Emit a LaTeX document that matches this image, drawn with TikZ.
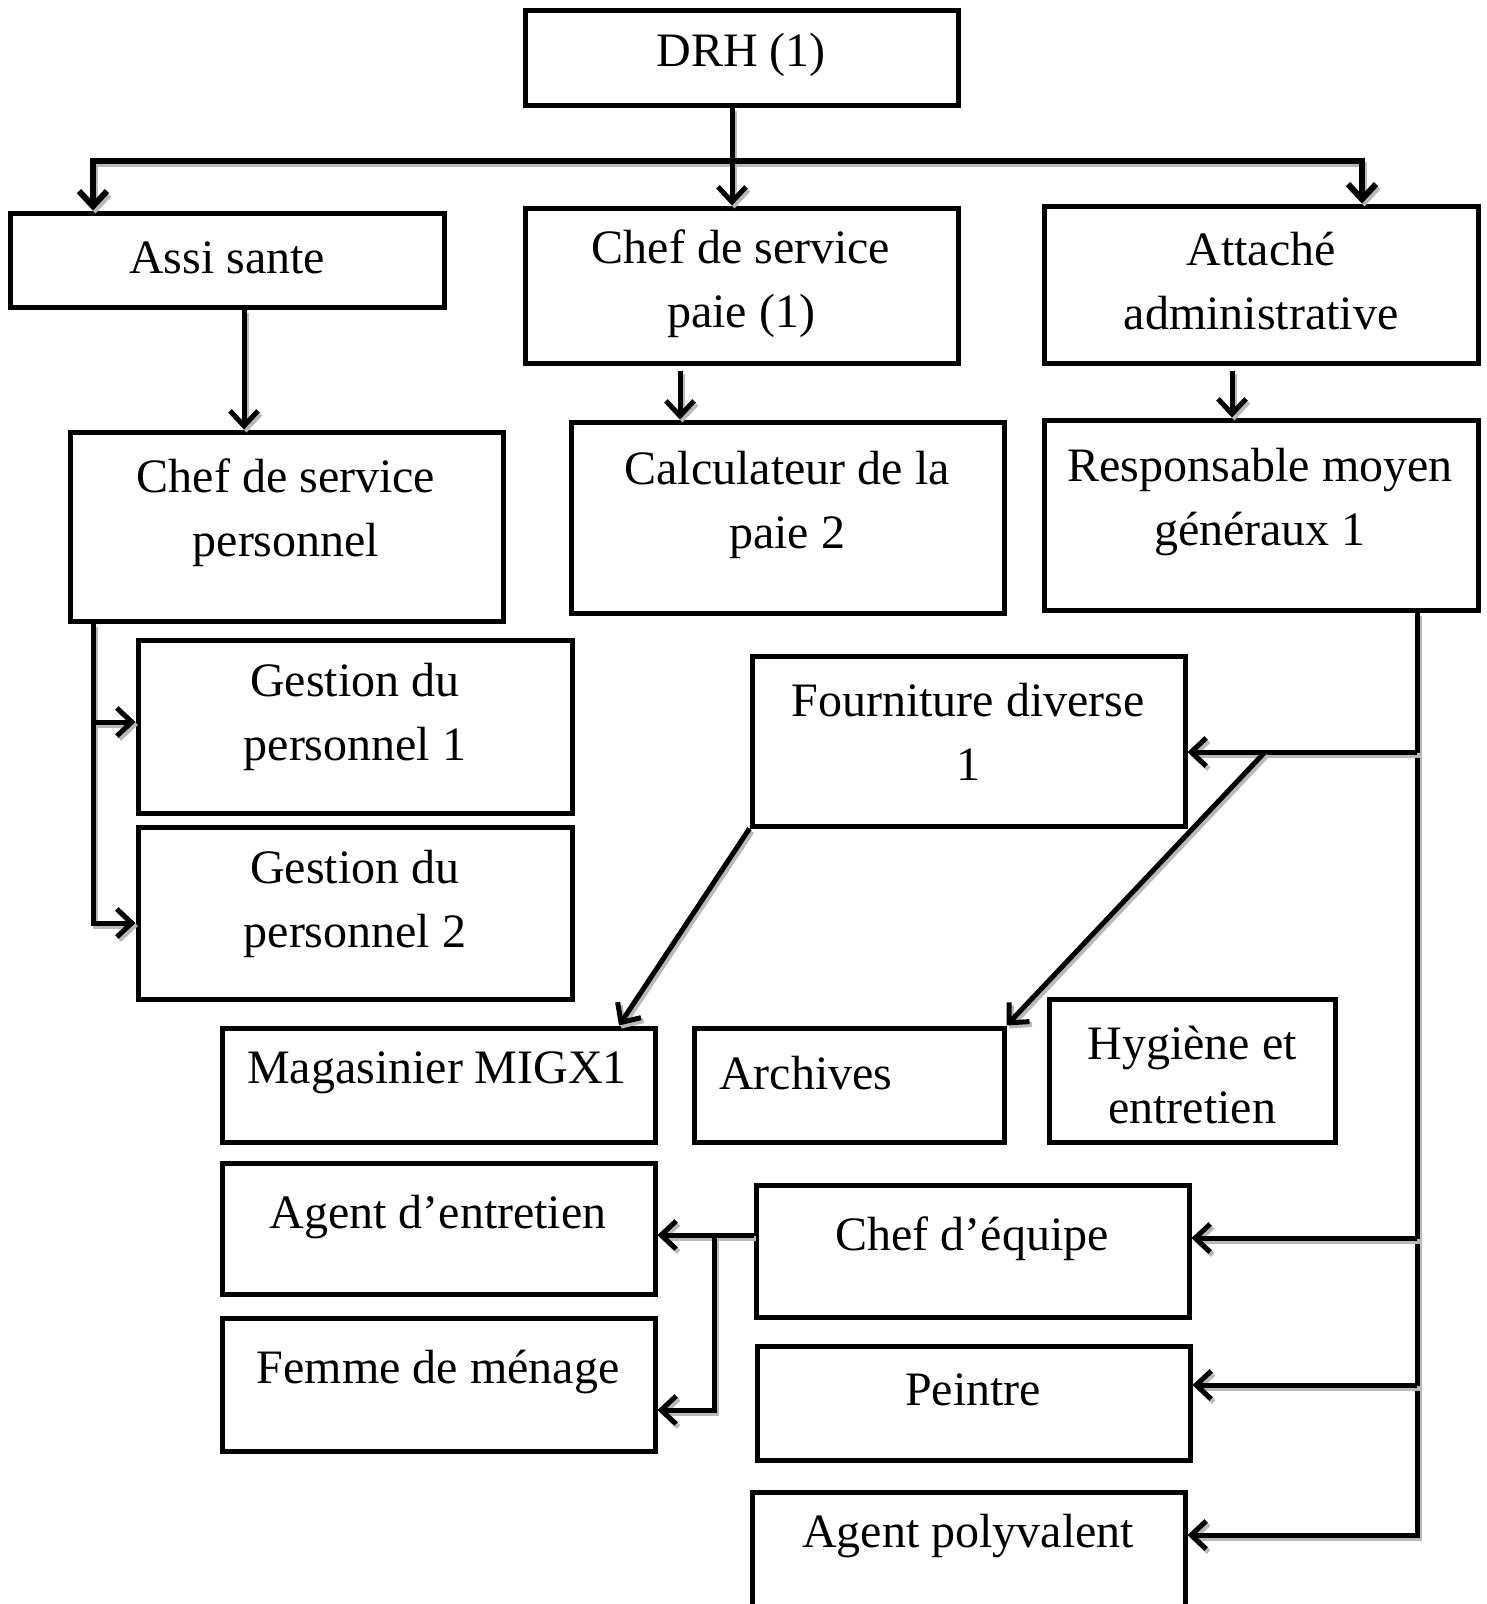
\documentclass[tikz,border=0pt]{standalone}
\usepackage{fontspec}
\setmainfont{Liberation Serif}
\usetikzlibrary{arrows.meta,fit}
\begin{document}
\begin{tikzpicture}[x=1pt,y=-1pt,
  box/.style={draw, line width=5pt, rectangle, inner sep=0pt},
  lbl/.style={align=center, font=\fontsize{48}{64}\selectfont, inner sep=0pt},
  conn/.style={line width=5pt, preaction={draw=gray!55, line width=5pt, transform canvas={shift={(2.5pt,-3pt)}}}},
  arr/.style={conn, -{Straight Barb[length=15pt,width=28pt]}}
]
\useasboundingbox (0,0) rectangle (1487,1604);
\begin{scope}
\clip (0,0) rectangle (1487,1604);
% boxes
\node[box, fit={(525,10) (958,105)}] (drh) {};
\node[box, fit={(10,213) (444,307)}] (assi) {};
\node[box, fit={(525,208) (958,363)}] (paie) {};
\node[box, fit={(1044,206) (1478,363)}] (att) {};
\node[box, fit={(70,432) (503,621)}] (pers) {};
\node[box, fit={(571,422) (1004,613)}] (calc) {};
\node[box, fit={(1044,420) (1478,610)}] (resp) {};
\node[box, fit={(138,640) (572,813)}] (g1) {};
\node[box, fit={(138,827) (572,999)}] (g2) {};
\node[box, fit={(752,656) (1185,826)}] (four) {};
\node[box, fit={(222,1028) (655,1142)}] (mag) {};
\node[box, fit={(694,1028) (1004,1142)}] (arch) {};
\node[box, fit={(1049,999) (1335,1142)}] (hyg) {};
\node[box, fit={(222,1163) (655,1294)}] (ent) {};
\node[box, fit={(222,1318) (655,1451)}] (fem) {};
\node[box, fit={(756,1185) (1189,1317)}] (equ) {};
\node[box, fit={(757,1346) (1190,1460)}] (pei) {};
\node[box, fit={(752,1492) (1185,1640)}] (poly) {};
% labels
\node[lbl] (drh-t) at (741,55) {DRH (1)};
\node[lbl] (assi-t) at (227,258) {Assi sante};
\node[lbl] (paie-t) at (741,284) {Chef de service\\paie (1)};
\node[lbl] (att-t) at (1261,281) {Attaché\\administrative};
\node[lbl] (pers-t) at (286,513) {Chef de service\\personnel};
\node[lbl] (calc-t) at (787,505) {Calculateur de la\\paie 2};
\node[lbl] (resp-t) at (1260,502) {Responsable moyen\\généraux 1};
\node[lbl] (g1-t) at (355,717) {Gestion du\\personnel 1};
\node[lbl] (g2-t) at (355,904) {Gestion du\\personnel 2};
\node[lbl] (four-t) at (968,732) {Fourniture diverse\\1};
\node[lbl] (mag-t) at (437,1073) {Magasinier MIGX1};
\node[lbl, anchor=west] (arch-t) at (719,1073) {Archives};
\node[lbl] (hyg-t) at (1192,1075) {Hygiène et\\entretien};
\node[lbl] (ent-t) at (438,1217) {Agent d’entretien};
\node[lbl] (fem-t) at (438,1372) {Femme de ménage};
\node[lbl] (equ-t) at (972,1239) {Chef d’équipe};
\node[lbl] (pei-t) at (973,1390) {Peintre};
\node[lbl] (poly-t) at (968,1536) {Agent polyvalent};
% coordinates
\coordinate (busL) at (93,161);
\coordinate (busM) at (732,161);
\coordinate (busR) at (1362,161);
\coordinate (assiX) at (244,0);
\coordinate (paieX) at (680,0);
\coordinate (attX) at (1232,0);
\coordinate (persX) at (93,0);
\coordinate (g1y) at (0,722);
\coordinate (g2y) at (0,923);
\coordinate (trX) at (1417,0);
\coordinate (fourY) at (0,752);
\coordinate (equY) at (0,1238);
\coordinate (peiY) at (0,1385);
\coordinate (polyY) at (0,1535);
\coordinate (diagS) at (1265,752);
\coordinate (magX) at (619,0);
\coordinate (equY2) at (0,1235);
\coordinate (brX) at (714,0);
\coordinate (femY) at (0,1410);
% connectors
\draw[conn] (drh.south -| busM) -- (busM);
\draw[arr, line width=6pt] (busM) -| (assi.north -| busL);
\draw[arr, line width=6pt] (busM) -| (att.north -| busR);
\draw[arr] (busM) -- (paie.north -| busM);
\draw[arr] (assi.south -| assiX) -- (pers.north -| assiX);
\draw[arr, shorten <=5pt] (paie.south -| paieX) -- (calc.north -| paieX);
\draw[arr, shorten <=5pt] (att.south -| attX) -- (resp.north -| attX);
\draw[arr] (pers.south -| persX) |- (g2.west |- g2y);
\draw[arr] (persX |- g1y) -- (g1.west |- g1y);
\draw[arr] (resp.south -| trX) |- (poly.east |- polyY);
\draw[arr] (trX |- fourY) -- (four.east |- fourY);
\draw[arr] (trX |- equY) -- (equ.east |- equY);
\draw[arr] (trX |- peiY) -- (pei.east |- peiY);
\draw[arr] (diagS) -- (arch.north east);
\draw[arr] (four.south west) -- (mag.north -| magX);
\draw[arr] (equ.west |- equY2) -- (ent.east |- equY2);
\draw[arr] (brX |- equY2) |- (fem.east |- femY);
\end{scope}
\end{tikzpicture}
\end{document}
